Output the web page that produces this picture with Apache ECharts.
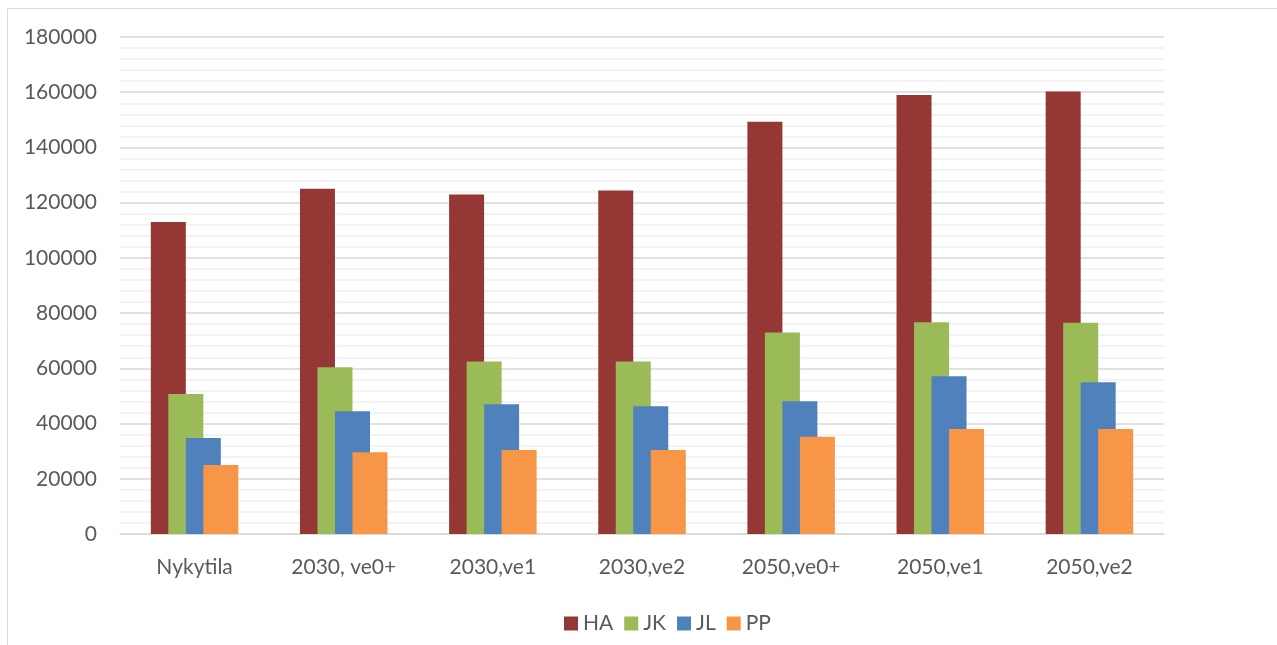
<!DOCTYPE html>
<html>
<head>
<meta charset="utf-8">
<script src="https://cdn.jsdelivr.net/npm/echarts@6/dist/echarts.min.js"></script>
<style>
  html, body { margin: 0; padding: 0; background: #fff; }
  #chart { width: 1277px; height: 645px; }
</style>
</head>
<body>
<div id="chart"></div>
<script>
const categories = ['Nykytila', '2030, ve0+', '2030,ve1', '2030,ve2', '2050,ve0+', '2050,ve1', '2050,ve2'];
const seriesNames = ['HA', 'JK', 'JL', 'PP'];
const haValues = [113000, 125000, 123000, 124400, 149300, 159000, 160300];
const jkValues = [50700, 60400, 62500, 62500, 73000, 76700, 76500];
const jlValues = [34800, 44500, 47000, 46300, 48100, 57100, 55000];
const ppValues = [25000, 29600, 30400, 30400, 35200, 38000, 38000];
const colors = ['#953735', '#9BBB59', '#4F81BD', '#F79646'];

const allValues = [haValues, jkValues, jlValues, ppValues];
const font = 'Lato, "Open Sans", sans-serif';

let myChart = echarts.init(document.getElementById('chart'));
let option = {
  animation: false,
  color: colors,
  textStyle: { fontFamily: font },
  graphic: [{
    type: 'rect',
    shape: { x: 7.5, y: 8.5, width: 1300, height: 700 },
    style: { fill: 'none', stroke: '#d9d9d9', lineWidth: 1 },
    silent: true
  }],
  grid: { left: 120, right: 113, top: 37, bottom: 111 },
  legend: {
    data: seriesNames,
    top: 608,
    left: 559,
    itemWidth: 14,
    itemHeight: 14,
    itemGap: 11,
    icon: 'rect',
    textStyle: { color: '#595959', fontSize: 21, fontFamily: font }
  },
  xAxis: {
    type: 'category',
    data: categories,
    axisLine: { lineStyle: { color: '#d9d9d9', width: 1.5 } },
    axisTick: { show: false },
    axisLabel: { color: '#595959', fontSize: 21, margin: 23, fontFamily: font }
  },
  yAxis: {
    type: 'value',
    min: 0,
    max: 180000,
    interval: 20000,
    axisLine: { show: false },
    axisTick: { show: false },
    axisLabel: { color: '#595959', fontSize: 21, margin: 23, fontFamily: font, formatter: v => String(v) },
    splitLine: { lineStyle: { color: '#d9d9d9', width: 1.5 } },
    minorTick: { show: false, splitNumber: 5 },
    minorSplitLine: { show: true, lineStyle: { color: '#f0f0f0', width: 1.5 } }
  },
  series: seriesNames.map((name, i) => ({
    name: name,
    type: 'bar',
    barWidth: 35,
    barGap: '-50%',
    data: allValues[i],
    itemStyle: { color: colors[i] }
  }))
};
myChart.setOption(option);
</script>
</body>
</html>
